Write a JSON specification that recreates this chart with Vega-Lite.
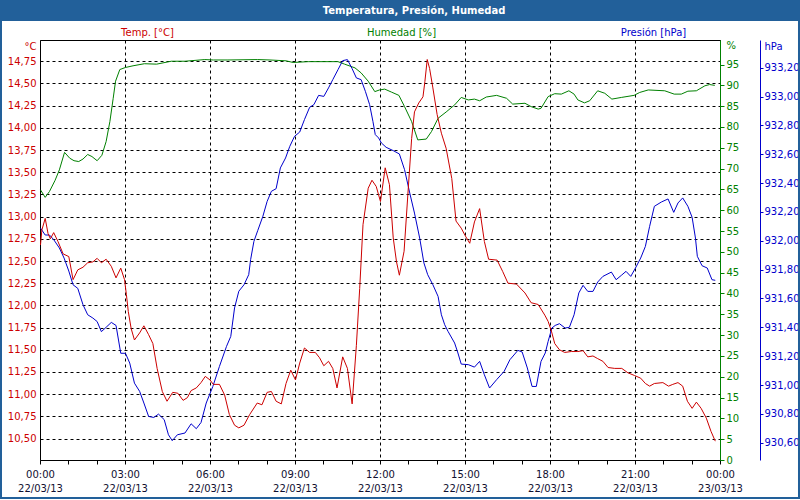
{
  "$schema": "https://vega.github.io/schema/vega-lite/v6.json",
  "width": 680,
  "height": 420,
  "autosize": {"type": "none"},
  "padding": {"left": 40, "top": 40, "right": 80, "bottom": 40},
  "background": "white",
  "title": {
    "text": "Temperatura, Presión, Humedad",
    "anchor": "middle",
    "frame": "group",
    "dx": 34,
    "offset": -31,
    "baseline": "middle",
    "color": "white",
    "font": "DejaVu Sans",
    "fontSize": 10,
    "fontWeight": "bold"
  },
  "config": {
    "font": "DejaVu Sans",
    "view": {"stroke": "black", "strokeWidth": 1},
    "axis": {
      "labelFont": "DejaVu Sans",
      "labelFontSize": 10,
      "titleFont": "DejaVu Sans",
      "titleFontSize": 10,
      "titleFontWeight": "normal",
      "labelFlush": false,
      "labelOverlap": false,
      "tickCount": 40
    }
  },
  "datasets": {
    "temp": [
      {"t": "2013-03-22T00:01", "v": 12.68}, {"t": "2013-03-22T00:04", "v": 12.85}, {"t": "2013-03-22T00:11", "v": 12.98},
      {"t": "2013-03-22T00:17", "v": 12.81}, {"t": "2013-03-22T00:22", "v": 12.75}, {"t": "2013-03-22T00:29", "v": 12.82},
      {"t": "2013-03-22T00:38", "v": 12.72}, {"t": "2013-03-22T00:49", "v": 12.58}, {"t": "2013-03-22T01:01", "v": 12.55},
      {"t": "2013-03-22T01:10", "v": 12.29}, {"t": "2013-03-22T01:20", "v": 12.40}, {"t": "2013-03-22T01:31", "v": 12.43},
      {"t": "2013-03-22T01:41", "v": 12.48}, {"t": "2013-03-22T01:52", "v": 12.49}, {"t": "2013-03-22T02:01", "v": 12.53},
      {"t": "2013-03-22T02:10", "v": 12.48}, {"t": "2013-03-22T02:20", "v": 12.52}, {"t": "2013-03-22T02:31", "v": 12.44},
      {"t": "2013-03-22T02:41", "v": 12.31}, {"t": "2013-03-22T02:51", "v": 12.42}, {"t": "2013-03-22T02:59", "v": 12.29},
      {"t": "2013-03-22T03:03", "v": 12.12}, {"t": "2013-03-22T03:07", "v": 11.93}, {"t": "2013-03-22T03:13", "v": 11.74},
      {"t": "2013-03-22T03:20", "v": 11.61}, {"t": "2013-03-22T03:31", "v": 11.69}, {"t": "2013-03-22T03:40", "v": 11.77},
      {"t": "2013-03-22T03:50", "v": 11.67}, {"t": "2013-03-22T03:59", "v": 11.57}, {"t": "2013-03-22T04:08", "v": 11.29},
      {"t": "2013-03-22T04:19", "v": 11.03}, {"t": "2013-03-22T04:29", "v": 10.92}, {"t": "2013-03-22T04:41", "v": 11.02},
      {"t": "2013-03-22T04:52", "v": 11.01}, {"t": "2013-03-22T05:03", "v": 10.93}, {"t": "2013-03-22T05:12", "v": 10.96},
      {"t": "2013-03-22T05:20", "v": 11.04}, {"t": "2013-03-22T05:31", "v": 11.07}, {"t": "2013-03-22T05:41", "v": 11.13},
      {"t": "2013-03-22T05:50", "v": 11.20}, {"t": "2013-03-22T06:00", "v": 11.16}, {"t": "2013-03-22T06:07", "v": 11.11},
      {"t": "2013-03-22T06:20", "v": 11.11}, {"t": "2013-03-22T06:31", "v": 10.99}, {"t": "2013-03-22T06:41", "v": 10.77},
      {"t": "2013-03-22T06:52", "v": 10.65}, {"t": "2013-03-22T07:01", "v": 10.62}, {"t": "2013-03-22T07:12", "v": 10.65},
      {"t": "2013-03-22T07:24", "v": 10.77}, {"t": "2013-03-22T07:40", "v": 10.90}, {"t": "2013-03-22T07:50", "v": 10.88},
      {"t": "2013-03-22T08:01", "v": 11.02}, {"t": "2013-03-22T08:10", "v": 11.03}, {"t": "2013-03-22T08:20", "v": 10.92},
      {"t": "2013-03-22T08:31", "v": 10.89}, {"t": "2013-03-22T08:41", "v": 11.12}, {"t": "2013-03-22T08:51", "v": 11.27},
      {"t": "2013-03-22T09:01", "v": 11.16}, {"t": "2013-03-22T09:10", "v": 11.35}, {"t": "2013-03-22T09:20", "v": 11.52},
      {"t": "2013-03-22T09:31", "v": 11.47}, {"t": "2013-03-22T09:43", "v": 11.47}, {"t": "2013-03-22T09:52", "v": 11.41},
      {"t": "2013-03-22T10:01", "v": 11.32}, {"t": "2013-03-22T10:11", "v": 11.37}, {"t": "2013-03-22T10:20", "v": 11.29},
      {"t": "2013-03-22T10:29", "v": 11.07}, {"t": "2013-03-22T10:41", "v": 11.42}, {"t": "2013-03-22T10:51", "v": 11.29},
      {"t": "2013-03-22T11:01", "v": 10.89}, {"t": "2013-03-22T11:10", "v": 11.55}, {"t": "2013-03-22T11:17", "v": 12.19},
      {"t": "2013-03-22T11:24", "v": 12.91}, {"t": "2013-03-22T11:35", "v": 13.32}, {"t": "2013-03-22T11:43", "v": 13.41},
      {"t": "2013-03-22T11:52", "v": 13.34}, {"t": "2013-03-22T12:01", "v": 13.17}, {"t": "2013-03-22T12:11", "v": 13.55},
      {"t": "2013-03-22T12:20", "v": 13.36}, {"t": "2013-03-22T12:28", "v": 12.76}, {"t": "2013-03-22T12:35", "v": 12.49},
      {"t": "2013-03-22T12:41", "v": 12.34}, {"t": "2013-03-22T12:51", "v": 12.61}, {"t": "2013-03-22T12:59", "v": 13.25},
      {"t": "2013-03-22T13:07", "v": 13.88}, {"t": "2013-03-22T13:13", "v": 14.18}, {"t": "2013-03-22T13:22", "v": 14.28},
      {"t": "2013-03-22T13:31", "v": 14.35}, {"t": "2013-03-22T13:35", "v": 14.52}, {"t": "2013-03-22T13:40", "v": 14.77},
      {"t": "2013-03-22T13:45", "v": 14.67}, {"t": "2013-03-22T13:52", "v": 14.45}, {"t": "2013-03-22T14:01", "v": 14.15},
      {"t": "2013-03-22T14:10", "v": 13.94}, {"t": "2013-03-22T14:20", "v": 13.77}, {"t": "2013-03-22T14:32", "v": 13.43},
      {"t": "2013-03-22T14:41", "v": 12.95}, {"t": "2013-03-22T14:52", "v": 12.87}, {"t": "2013-03-22T15:01", "v": 12.78},
      {"t": "2013-03-22T15:10", "v": 12.70}, {"t": "2013-03-22T15:20", "v": 12.94}, {"t": "2013-03-22T15:31", "v": 13.09},
      {"t": "2013-03-22T15:41", "v": 12.72}, {"t": "2013-03-22T15:50", "v": 12.52}, {"t": "2013-03-22T16:08", "v": 12.51},
      {"t": "2013-03-22T16:20", "v": 12.38}, {"t": "2013-03-22T16:31", "v": 12.25}, {"t": "2013-03-22T16:49", "v": 12.24},
      {"t": "2013-03-22T17:07", "v": 12.14}, {"t": "2013-03-22T17:20", "v": 12.03}, {"t": "2013-03-22T17:35", "v": 12.01},
      {"t": "2013-03-22T17:49", "v": 11.89}, {"t": "2013-03-22T17:56", "v": 11.82}, {"t": "2013-03-22T18:03", "v": 11.71},
      {"t": "2013-03-22T18:10", "v": 11.57}, {"t": "2013-03-22T18:20", "v": 11.50}, {"t": "2013-03-22T18:31", "v": 11.47},
      {"t": "2013-03-22T18:45", "v": 11.48}, {"t": "2013-03-22T18:59", "v": 11.48}, {"t": "2013-03-22T19:10", "v": 11.49},
      {"t": "2013-03-22T19:20", "v": 11.42}, {"t": "2013-03-22T19:31", "v": 11.43}, {"t": "2013-03-22T19:41", "v": 11.40},
      {"t": "2013-03-22T19:52", "v": 11.37}, {"t": "2013-03-22T20:03", "v": 11.30}, {"t": "2013-03-22T20:17", "v": 11.29},
      {"t": "2013-03-22T20:32", "v": 11.29}, {"t": "2013-03-22T20:45", "v": 11.24}, {"t": "2013-03-22T20:59", "v": 11.21},
      {"t": "2013-03-22T21:12", "v": 11.18}, {"t": "2013-03-22T21:22", "v": 11.12}, {"t": "2013-03-22T21:31", "v": 11.09},
      {"t": "2013-03-22T21:41", "v": 11.12}, {"t": "2013-03-22T21:59", "v": 11.13}, {"t": "2013-03-22T22:11", "v": 11.09},
      {"t": "2013-03-22T22:20", "v": 11.11}, {"t": "2013-03-22T22:31", "v": 11.13}, {"t": "2013-03-22T22:41", "v": 11.09},
      {"t": "2013-03-22T22:51", "v": 10.92}, {"t": "2013-03-22T23:01", "v": 10.84}, {"t": "2013-03-22T23:10", "v": 10.91},
      {"t": "2013-03-22T23:20", "v": 10.84}, {"t": "2013-03-22T23:31", "v": 10.73}, {"t": "2013-03-22T23:41", "v": 10.58},
      {"t": "2013-03-22T23:50", "v": 10.47}
    ],
    "hum": [
      {"t": "2013-03-22T00:01", "v": 64.9}, {"t": "2013-03-22T00:11", "v": 63.1}, {"t": "2013-03-22T00:20", "v": 64.5},
      {"t": "2013-03-22T00:32", "v": 67.2}, {"t": "2013-03-22T00:41", "v": 69.7}, {"t": "2013-03-22T00:52", "v": 73.9},
      {"t": "2013-03-22T01:03", "v": 72.5}, {"t": "2013-03-22T01:12", "v": 71.9}, {"t": "2013-03-22T01:22", "v": 71.7},
      {"t": "2013-03-22T01:31", "v": 72.3}, {"t": "2013-03-22T01:41", "v": 73.4}, {"t": "2013-03-22T01:50", "v": 72.9},
      {"t": "2013-03-22T02:01", "v": 71.9}, {"t": "2013-03-22T02:11", "v": 73.2}, {"t": "2013-03-22T02:20", "v": 76.5},
      {"t": "2013-03-22T02:28", "v": 81.3}, {"t": "2013-03-22T02:35", "v": 86.9}, {"t": "2013-03-22T02:40", "v": 91.0},
      {"t": "2013-03-22T02:49", "v": 93.8}, {"t": "2013-03-22T03:01", "v": 94.3}, {"t": "2013-03-22T03:17", "v": 94.7},
      {"t": "2013-03-22T03:41", "v": 95.2}, {"t": "2013-03-22T04:07", "v": 95.1}, {"t": "2013-03-22T04:38", "v": 95.8},
      {"t": "2013-03-22T05:07", "v": 95.8}, {"t": "2013-03-22T05:49", "v": 96.2}, {"t": "2013-03-22T06:07", "v": 96.1},
      {"t": "2013-03-22T06:38", "v": 96.1}, {"t": "2013-03-22T07:41", "v": 96.2}, {"t": "2013-03-22T08:07", "v": 96.1},
      {"t": "2013-03-22T08:41", "v": 95.9}, {"t": "2013-03-22T08:56", "v": 95.5}, {"t": "2013-03-22T09:28", "v": 95.7},
      {"t": "2013-03-22T10:31", "v": 95.7}, {"t": "2013-03-22T10:45", "v": 95.1}, {"t": "2013-03-22T11:07", "v": 94.2},
      {"t": "2013-03-22T11:20", "v": 93.0}, {"t": "2013-03-22T11:35", "v": 91.0}, {"t": "2013-03-22T11:49", "v": 88.5},
      {"t": "2013-03-22T11:59", "v": 88.9}, {"t": "2013-03-22T12:10", "v": 89.1}, {"t": "2013-03-22T12:24", "v": 88.4},
      {"t": "2013-03-22T12:40", "v": 87.6}, {"t": "2013-03-22T12:52", "v": 84.9}, {"t": "2013-03-22T13:07", "v": 81.3},
      {"t": "2013-03-22T13:20", "v": 76.9}, {"t": "2013-03-22T13:38", "v": 77.1}, {"t": "2013-03-22T13:49", "v": 78.9},
      {"t": "2013-03-22T14:03", "v": 82.1}, {"t": "2013-03-22T14:20", "v": 83.6}, {"t": "2013-03-22T14:38", "v": 85.3},
      {"t": "2013-03-22T14:52", "v": 87.1}, {"t": "2013-03-22T15:07", "v": 86.5}, {"t": "2013-03-22T15:20", "v": 86.7},
      {"t": "2013-03-22T15:31", "v": 86.3}, {"t": "2013-03-22T15:45", "v": 87.2}, {"t": "2013-03-22T16:07", "v": 87.6},
      {"t": "2013-03-22T16:28", "v": 86.9}, {"t": "2013-03-22T16:41", "v": 85.5}, {"t": "2013-03-22T17:07", "v": 85.7},
      {"t": "2013-03-22T17:20", "v": 84.9}, {"t": "2013-03-22T17:35", "v": 84.3}, {"t": "2013-03-22T17:41", "v": 84.5},
      {"t": "2013-03-22T17:56", "v": 87.3}, {"t": "2013-03-22T18:10", "v": 88.0}, {"t": "2013-03-22T18:24", "v": 87.9},
      {"t": "2013-03-22T18:40", "v": 88.7}, {"t": "2013-03-22T18:51", "v": 87.9}, {"t": "2013-03-22T18:59", "v": 86.5},
      {"t": "2013-03-22T19:13", "v": 85.8}, {"t": "2013-03-22T19:24", "v": 86.3}, {"t": "2013-03-22T19:41", "v": 88.7},
      {"t": "2013-03-22T19:56", "v": 88.1}, {"t": "2013-03-22T20:11", "v": 86.7}, {"t": "2013-03-22T20:31", "v": 87.1},
      {"t": "2013-03-22T20:58", "v": 87.6}, {"t": "2013-03-22T21:10", "v": 88.3}, {"t": "2013-03-22T21:28", "v": 88.9},
      {"t": "2013-03-22T22:03", "v": 88.7}, {"t": "2013-03-22T22:23", "v": 87.9}, {"t": "2013-03-22T22:38", "v": 87.9},
      {"t": "2013-03-22T22:52", "v": 88.6}, {"t": "2013-03-22T23:10", "v": 88.7}, {"t": "2013-03-22T23:28", "v": 89.9},
      {"t": "2013-03-22T23:38", "v": 90.2}, {"t": "2013-03-22T23:49", "v": 90.0}
    ],
    "pres": [
      {"t": "2013-03-22T00:01", "v": 932.088}, {"t": "2013-03-22T00:11", "v": 932.04}, {"t": "2013-03-22T00:20", "v": 932.04},
      {"t": "2013-03-22T00:29", "v": 932.008}, {"t": "2013-03-22T00:41", "v": 931.95}, {"t": "2013-03-22T00:51", "v": 931.88},
      {"t": "2013-03-22T01:01", "v": 931.79}, {"t": "2013-03-22T01:10", "v": 931.695}, {"t": "2013-03-22T01:20", "v": 931.67},
      {"t": "2013-03-22T01:31", "v": 931.557}, {"t": "2013-03-22T01:41", "v": 931.487}, {"t": "2013-03-22T01:52", "v": 931.464},
      {"t": "2013-03-22T02:01", "v": 931.44}, {"t": "2013-03-22T02:10", "v": 931.37}, {"t": "2013-03-22T02:20", "v": 931.40},
      {"t": "2013-03-22T02:31", "v": 931.434}, {"t": "2013-03-22T02:41", "v": 931.413}, {"t": "2013-03-22T02:51", "v": 931.22},
      {"t": "2013-03-22T03:01", "v": 931.22}, {"t": "2013-03-22T03:10", "v": 931.152}, {"t": "2013-03-22T03:20", "v": 931.013},
      {"t": "2013-03-22T03:31", "v": 930.956}, {"t": "2013-03-22T03:40", "v": 930.875}, {"t": "2013-03-22T03:50", "v": 930.782},
      {"t": "2013-03-22T04:01", "v": 930.775}, {"t": "2013-03-22T04:11", "v": 930.798}, {"t": "2013-03-22T04:23", "v": 930.76},
      {"t": "2013-03-22T04:32", "v": 930.655}, {"t": "2013-03-22T04:40", "v": 930.614}, {"t": "2013-03-22T04:51", "v": 930.655},
      {"t": "2013-03-22T05:07", "v": 930.667}, {"t": "2013-03-22T05:20", "v": 930.731}, {"t": "2013-03-22T05:31", "v": 930.697},
      {"t": "2013-03-22T05:41", "v": 930.74}, {"t": "2013-03-22T05:52", "v": 930.875}, {"t": "2013-03-22T06:06", "v": 930.99},
      {"t": "2013-03-22T06:20", "v": 931.129}, {"t": "2013-03-22T06:35", "v": 931.268}, {"t": "2013-03-22T06:44", "v": 931.337},
      {"t": "2013-03-22T06:52", "v": 931.534}, {"t": "2013-03-22T07:01", "v": 931.65}, {"t": "2013-03-22T07:12", "v": 931.695},
      {"t": "2013-03-22T07:22", "v": 931.765}, {"t": "2013-03-22T07:26", "v": 931.869}, {"t": "2013-03-22T07:33", "v": 931.996},
      {"t": "2013-03-22T07:41", "v": 932.07}, {"t": "2013-03-22T07:52", "v": 932.17}, {"t": "2013-03-22T08:01", "v": 932.273},
      {"t": "2013-03-22T08:10", "v": 932.343}, {"t": "2013-03-22T08:20", "v": 932.361}, {"t": "2013-03-22T08:29", "v": 932.505},
      {"t": "2013-03-22T08:40", "v": 932.574}, {"t": "2013-03-22T08:49", "v": 932.655}, {"t": "2013-03-22T08:59", "v": 932.724},
      {"t": "2013-03-22T09:10", "v": 932.754}, {"t": "2013-03-22T09:20", "v": 932.84}, {"t": "2013-03-22T09:31", "v": 932.925},
      {"t": "2013-03-22T09:40", "v": 932.944}, {"t": "2013-03-22T09:50", "v": 933.008}, {"t": "2013-03-22T10:01", "v": 933.001},
      {"t": "2013-03-22T10:11", "v": 933.06}, {"t": "2013-03-22T10:20", "v": 933.117}, {"t": "2013-03-22T10:31", "v": 933.186},
      {"t": "2013-03-22T10:41", "v": 933.249}, {"t": "2013-03-22T10:51", "v": 933.256}, {"t": "2013-03-22T11:01", "v": 933.193},
      {"t": "2013-03-22T11:10", "v": 933.129}, {"t": "2013-03-22T11:20", "v": 933.117}, {"t": "2013-03-22T11:29", "v": 933.036},
      {"t": "2013-03-22T11:38", "v": 932.944}, {"t": "2013-03-22T11:45", "v": 932.828}, {"t": "2013-03-22T11:50", "v": 932.736},
      {"t": "2013-03-22T11:57", "v": 932.713}, {"t": "2013-03-22T12:03", "v": 932.678}, {"t": "2013-03-22T12:13", "v": 932.648},
      {"t": "2013-03-22T12:28", "v": 932.625}, {"t": "2013-03-22T12:41", "v": 932.602}, {"t": "2013-03-22T12:52", "v": 932.493},
      {"t": "2013-03-22T13:03", "v": 932.331}, {"t": "2013-03-22T13:13", "v": 932.192}, {"t": "2013-03-22T13:24", "v": 932.019},
      {"t": "2013-03-22T13:33", "v": 931.846}, {"t": "2013-03-22T13:41", "v": 931.765}, {"t": "2013-03-22T13:52", "v": 931.695},
      {"t": "2013-03-22T14:03", "v": 931.614}, {"t": "2013-03-22T14:10", "v": 931.487}, {"t": "2013-03-22T14:17", "v": 931.418},
      {"t": "2013-03-22T14:24", "v": 931.372}, {"t": "2013-03-22T14:38", "v": 931.291}, {"t": "2013-03-22T14:45", "v": 931.222},
      {"t": "2013-03-22T14:52", "v": 931.145}, {"t": "2013-03-22T15:07", "v": 931.141}, {"t": "2013-03-22T15:20", "v": 931.124},
      {"t": "2013-03-22T15:31", "v": 931.164}, {"t": "2013-03-22T15:41", "v": 931.071}, {"t": "2013-03-22T15:52", "v": 930.979},
      {"t": "2013-03-22T16:07", "v": 931.037}, {"t": "2013-03-22T16:23", "v": 931.095}, {"t": "2013-03-22T16:35", "v": 931.175},
      {"t": "2013-03-22T16:52", "v": 931.24}, {"t": "2013-03-22T17:01", "v": 931.229}, {"t": "2013-03-22T17:12", "v": 931.118},
      {"t": "2013-03-22T17:22", "v": 930.99}, {"t": "2013-03-22T17:31", "v": 930.99}, {"t": "2013-03-22T17:41", "v": 931.164},
      {"t": "2013-03-22T17:50", "v": 931.222}, {"t": "2013-03-22T17:56", "v": 931.302}, {"t": "2013-03-22T18:04", "v": 931.395},
      {"t": "2013-03-22T18:11", "v": 931.413}, {"t": "2013-03-22T18:20", "v": 931.425}, {"t": "2013-03-22T18:32", "v": 931.395},
      {"t": "2013-03-22T18:41", "v": 931.40}, {"t": "2013-03-22T18:51", "v": 931.487}, {"t": "2013-03-22T19:01", "v": 931.638},
      {"t": "2013-03-22T19:10", "v": 931.691}, {"t": "2013-03-22T19:20", "v": 931.649}, {"t": "2013-03-22T19:31", "v": 931.649},
      {"t": "2013-03-22T19:41", "v": 931.714}, {"t": "2013-03-22T19:52", "v": 931.753}, {"t": "2013-03-22T20:10", "v": 931.783},
      {"t": "2013-03-22T20:20", "v": 931.73}, {"t": "2013-03-22T20:31", "v": 931.76}, {"t": "2013-03-22T20:41", "v": 931.788},
      {"t": "2013-03-22T20:51", "v": 931.753}, {"t": "2013-03-22T21:01", "v": 931.811}, {"t": "2013-03-22T21:12", "v": 931.88},
      {"t": "2013-03-22T21:22", "v": 931.961}, {"t": "2013-03-22T21:31", "v": 932.10}, {"t": "2013-03-22T21:41", "v": 932.239},
      {"t": "2013-03-22T21:56", "v": 932.269}, {"t": "2013-03-22T22:10", "v": 932.29}, {"t": "2013-03-22T22:22", "v": 932.197},
      {"t": "2013-03-22T22:31", "v": 932.262}, {"t": "2013-03-22T22:41", "v": 932.297}, {"t": "2013-03-22T22:52", "v": 932.239},
      {"t": "2013-03-22T23:01", "v": 932.162}, {"t": "2013-03-22T23:08", "v": 932.019}, {"t": "2013-03-22T23:12", "v": 931.892},
      {"t": "2013-03-22T23:22", "v": 931.827}, {"t": "2013-03-22T23:33", "v": 931.811}, {"t": "2013-03-22T23:43", "v": 931.73},
      {"t": "2013-03-22T23:50", "v": 931.726}
    ]
  },
  "layer": [
    {
      "data": {"name": "hum"},
      "mark": {"type": "line", "color": "#008000", "strokeWidth": 1},
      "encoding": {
        "x": {
          "field": "t", "type": "temporal",
          "scale": {"domain": [{"year": 2013, "month": 3, "date": 22, "hours": 0}, {"year": 2013, "month": 3, "date": 23, "hours": 0}], "nice": false},
          "axis": {
            "title": null,
            "tickCount": 40,
            "values": [
              {"year": 2013, "month": 3, "date": 22, "hours": 0}, {"year": 2013, "month": 3, "date": 22, "hours": 1},
              {"year": 2013, "month": 3, "date": 22, "hours": 2}, {"year": 2013, "month": 3, "date": 22, "hours": 3},
              {"year": 2013, "month": 3, "date": 22, "hours": 4}, {"year": 2013, "month": 3, "date": 22, "hours": 5},
              {"year": 2013, "month": 3, "date": 22, "hours": 6}, {"year": 2013, "month": 3, "date": 22, "hours": 7},
              {"year": 2013, "month": 3, "date": 22, "hours": 8}, {"year": 2013, "month": 3, "date": 22, "hours": 9},
              {"year": 2013, "month": 3, "date": 22, "hours": 10}, {"year": 2013, "month": 3, "date": 22, "hours": 11},
              {"year": 2013, "month": 3, "date": 22, "hours": 12}, {"year": 2013, "month": 3, "date": 22, "hours": 13},
              {"year": 2013, "month": 3, "date": 22, "hours": 14}, {"year": 2013, "month": 3, "date": 22, "hours": 15},
              {"year": 2013, "month": 3, "date": 22, "hours": 16}, {"year": 2013, "month": 3, "date": 22, "hours": 17},
              {"year": 2013, "month": 3, "date": 22, "hours": 18}, {"year": 2013, "month": 3, "date": 22, "hours": 19},
              {"year": 2013, "month": 3, "date": 22, "hours": 20}, {"year": 2013, "month": 3, "date": 22, "hours": 21},
              {"year": 2013, "month": 3, "date": 22, "hours": 22}, {"year": 2013, "month": 3, "date": 22, "hours": 23},
              {"year": 2013, "month": 3, "date": 23, "hours": 0}
            ],
            "labelExpr": "hours(datum.value) % 3 == 0 ? [timeFormat(datum.value, '%H:%M'), timeFormat(datum.value, '%d/%m/%y')] : ''",
            "labelColor": "#101030",
            "labelLineHeight": 14,
            "labelBaseline": "top",
            "labelPadding": 5,
            "tickSize": 4,
            "tickColor": "black",
            "domainColor": "black",
            "grid": true,
            "gridColor": "black",
            "gridDash": [3, 3],
            "gridOpacity": {"condition": {"test": "hours(datum.value) % 3 == 0", "value": 1}, "value": 0}
          }
        },
        "y": {
          "field": "v", "type": "quantitative",
          "scale": {"domain": [0, 100.9], "nice": false, "zero": false},
          "axis": {
            "orient": "right",
            "offset": 0,
            "tickCount": 40,
            "values": [0, 5, 10, 15, 20, 25, 30, 35, 40, 45, 50, 55, 60, 65, 70, 75, 80, 85, 90, 95, 99.5],
            "labelExpr": "datum.value > 99 ? '%' : format(datum.value, 'd')",
            "labelColor": "#008000",
            "domainColor": "#008000",
            "tickColor": "#008000",
            "tickSize": 4,
            "tickOpacity": {"condition": {"test": "datum.value > 99", "value": 0}, "value": 1},
            "labelPadding": 2,
            "grid": false,
            "title": "Humedad [%]",
            "titleColor": "#008000",
            "titleAngle": 0,
            "titleX": -319,
            "titleY": -8,
            "titleAlign": "center",
            "titleBaseline": "middle"
          }
        }
      }
    },
    {
      "data": {"name": "pres"},
      "mark": {"type": "line", "color": "#0000cc", "strokeWidth": 1},
      "encoding": {
        "x": {
          "field": "t", "type": "temporal",
          "scale": {"domain": [{"year": 2013, "month": 3, "date": 22, "hours": 0}, {"year": 2013, "month": 3, "date": 23, "hours": 0}], "nice": false}
        },
        "y": {
          "field": "v", "type": "quantitative",
          "scale": {"domain": [930.48, 933.392], "nice": false, "zero": false},
          "axis": {
            "orient": "right",
            "offset": 40,
            "tickCount": 40,
            "values": [930.6, 930.8, 931.0, 931.2, 931.4, 931.6, 931.8, 932.0, 932.2, 932.4, 932.6, 932.8, 933.0, 933.2, 933.35],
            "labelExpr": "datum.value > 933.3 ? 'hPa' : replace(format(datum.value, '.2f'), '.', ',')",
            "labelColor": "#0000cc",
            "domainColor": "#0000cc",
            "tickColor": "#0000cc",
            "tickSize": 3,
            "tickOpacity": {"condition": {"test": "datum.value > 933.3", "value": 0}, "value": 1},
            "labelPadding": 1,
            "grid": false,
            "title": "Presión [hPa]",
            "titleColor": "#0000cc",
            "titleAngle": 0,
            "titleX": -107,
            "titleY": -8,
            "titleAlign": "center",
            "titleBaseline": "middle"
          }
        }
      }
    },
    {
      "data": {"name": "temp"},
      "mark": {"type": "line", "color": "#cc0000", "strokeWidth": 1},
      "encoding": {
        "x": {
          "field": "t", "type": "temporal",
          "scale": {"domain": [{"year": 2013, "month": 3, "date": 22, "hours": 0}, {"year": 2013, "month": 3, "date": 23, "hours": 0}], "nice": false}
        },
        "y": {
          "field": "v", "type": "quantitative",
          "scale": {"domain": [10.258, 14.99], "nice": false, "zero": false},
          "axis": {
            "orient": "left",
            "tickCount": 40,
            "values": [10.5, 10.75, 11.0, 11.25, 11.5, 11.75, 12.0, 12.25, 12.5, 12.75, 13.0, 13.25, 13.5, 13.75, 14.0, 14.25, 14.5, 14.75, 14.922],
            "labelExpr": "datum.value > 14.85 ? '°C' : replace(format(datum.value, '.2f'), '.', ',')",
            "labelColor": "#cc0000",
            "ticks": false,
            "labelPadding": 4,
            "domain": false,
            "grid": true,
            "gridColor": "black",
            "gridDash": [3, 3],
            "gridOpacity": {"condition": {"test": "datum.value > 14.85", "value": 0}, "value": 1},
            "title": "Temp. [°C]",
            "titleColor": "#cc0000",
            "titleAngle": 0,
            "titleX": 107,
            "titleY": -8,
            "titleAlign": "center",
            "titleBaseline": "middle"
          }
        }
      }
    },
    {
      "data": {"values": [{}]},
      "mark": {"type": "rect", "filled": false, "stroke": "#22609a", "strokeWidth": 2},
      "encoding": {
        "x": {
          "datum": {"year": 2013, "month": 3, "date": 21, "hours": 22, "minutes": 37, "seconds": 24}, "type": "temporal",
          "scale": {"domain": [{"year": 2013, "month": 3, "date": 22, "hours": 0}, {"year": 2013, "month": 3, "date": 23, "hours": 0}], "nice": false}
        },
        "x2": {"datum": {"year": 2013, "month": 3, "date": 23, "hours": 2, "minutes": 47, "seconds": 17}},
        "y": {
          "datum": 15.328, "type": "quantitative",
          "scale": {"domain": [10.258, 14.99], "nice": false, "zero": false},
          "axis": null
        },
        "y2": {"datum": 9.831}
      }
    },
    {
      "data": {"values": [{}]},
      "mark": {"type": "rect", "color": "#22609a"},
      "encoding": {
        "x": {
          "datum": {"year": 2013, "month": 3, "date": 21, "hours": 22, "minutes": 14}, "type": "temporal",
          "scale": {"domain": [{"year": 2013, "month": 3, "date": 22, "hours": 0}, {"year": 2013, "month": 3, "date": 23, "hours": 0}], "nice": false}
        },
        "x2": {"datum": {"year": 2013, "month": 3, "date": 23, "hours": 3, "minutes": 11}},
        "y": {
          "datum": 15.553, "type": "quantitative",
          "scale": {"domain": [10.258, 14.99], "nice": false, "zero": false},
          "axis": null
        },
        "y2": {"datum": 15.204}
      }
    }
  ],
  "resolve": {"scale": {"y": "independent"}, "axis": {"y": "independent"}}
}
